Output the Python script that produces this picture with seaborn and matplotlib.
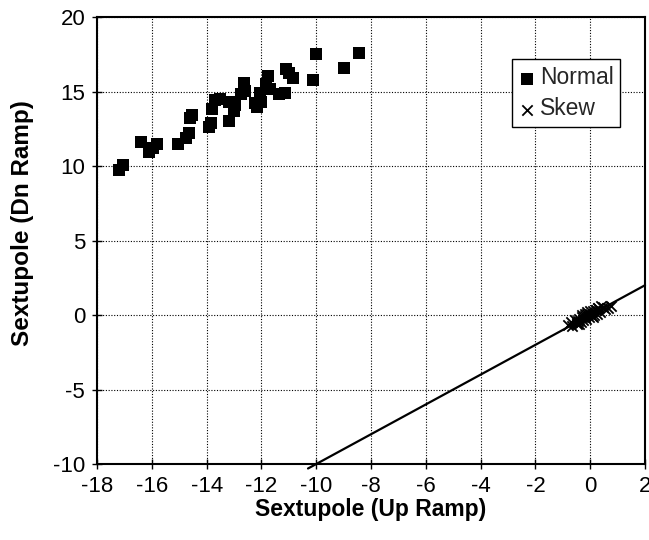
import numpy as np
import pandas as pd
import matplotlib
matplotlib.use("Agg")
import matplotlib.pyplot as plt
import seaborn as sns

# Normal sextupole (up ramp vs down ramp)
normal_up = [-17.2, -17.05, -16.4, -16.1, -15.95, -15.8, -15.05, -14.75, -14.65, -14.6,
             -14.55, -13.9, -13.85, -13.8, -13.7, -13.5, -13.2, -13.2, -13.0, -12.95,
             -12.75, -12.65, -12.6, -12.25, -12.15, -12.05, -12.0, -11.85, -11.75, -11.7,
             -11.35, -11.1, -11.0, -10.85, -11.15, -10.1, -10.0, -9.0, -8.45]
normal_dn = [9.75, 10.05, 11.6, 10.95, 11.2, 11.5, 11.45, 11.9, 12.2, 13.25,
             13.45, 12.6, 12.9, 13.8, 14.4, 14.5, 13.0, 14.3, 13.7, 14.1,
             14.8, 15.55, 15.05, 14.2, 13.95, 14.9, 14.3, 15.5, 16.05, 15.2,
             14.85, 16.5, 16.25, 15.9, 14.9, 15.8, 17.55, 16.55, 17.6]

# Skew sextupole cluster near the origin
skew_up = [-0.8, -0.7, -0.65, -0.55, -0.5, -0.45, -0.4, -0.35, -0.3, -0.25,
           -0.2, -0.15, -0.1, -0.05, 0.0, 0.05, 0.1, 0.15, 0.2, 0.25,
           0.3, 0.35, 0.45, 0.55, 0.65, 0.75, -0.3, -0.1, 0.1, 0.2,
           0.0, -0.2, -0.5, 0.4, 0.3, -0.4]
skew_dn = [-0.65, -0.5, -0.75, -0.35, -0.6, -0.4, -0.25, -0.5, -0.15, -0.35,
           -0.05, -0.3, 0.05, -0.15, 0.1, -0.05, 0.25, 0.0, 0.35, 0.1,
           0.45, 0.2, 0.55, 0.4, 0.5, 0.6, 0.0, 0.2, -0.15, 0.35,
           0.3, 0.1, -0.55, 0.6, 0.5, -0.6]

# reference line y = x
line_x = [-10.3, 2]

normal = pd.DataFrame({"up": normal_up, "dn": normal_dn})
skew = pd.DataFrame({"up": skew_up, "dn": skew_dn})

sns.set_theme(style="white")
plt.rcParams['font.family'] = ['Liberation Sans', 'DejaVu Sans']
plt.rcParams['axes.unicode_minus'] = False

fig = plt.figure(figsize=(6.49, 5.4), dpi=100)
ax = fig.add_axes([0.1495, 0.1407, 0.8444, 0.8278])

ax.grid(True, color='black', linestyle=(0, (1, 1.5)), linewidth=0.8)
ax.set_axisbelow(True)

sns.lineplot(x=line_x, y=line_x, color='black', linewidth=1.6, ax=ax, zorder=2,
             clip_on=False)
sns.scatterplot(data=normal, x="up", y="dn", marker='s', s=85, color='black',
                edgecolor='black', linewidth=0, label='Normal', ax=ax, zorder=3)
sns.scatterplot(data=skew, x="up", y="dn", marker='x', s=55, color='black',
                linewidth=1.3, label='Skew', ax=ax, zorder=3)

ax.set_xlim(-18, 2)
ax.set_ylim(-10, 20)
ax.set_xticks(np.arange(-18, 3, 2))
ax.set_yticks(np.arange(-10, 21, 5))
ax.tick_params(direction='inout', length=7, width=1, colors='black',
               labelsize=16, pad=5, bottom=True, left=True)
for sp in ax.spines.values():
    sp.set_color('black')
    sp.set_linewidth(1.5)

ax.set_xlabel('Sextupole (Up Ramp)', fontsize=16.5, fontweight='bold', color='black', labelpad=1)
ax.set_ylabel('Sextupole (Dn Ramp)', fontsize=17.5, fontweight='bold', color='black')
ax.yaxis.set_label_coords(-0.115, 0.54)

leg = ax.legend(loc='upper right', bbox_to_anchor=(0.955, 0.905), fancybox=False,
                edgecolor='black', fontsize=16.5, handletextpad=0.2,
                handlelength=0.7, borderpad=0.3, labelspacing=0.35, framealpha=1,
                borderaxespad=0, handleheight=0.6)
leg.get_frame().set_linewidth(1.0)

fig.savefig("out.png", dpi=100)
